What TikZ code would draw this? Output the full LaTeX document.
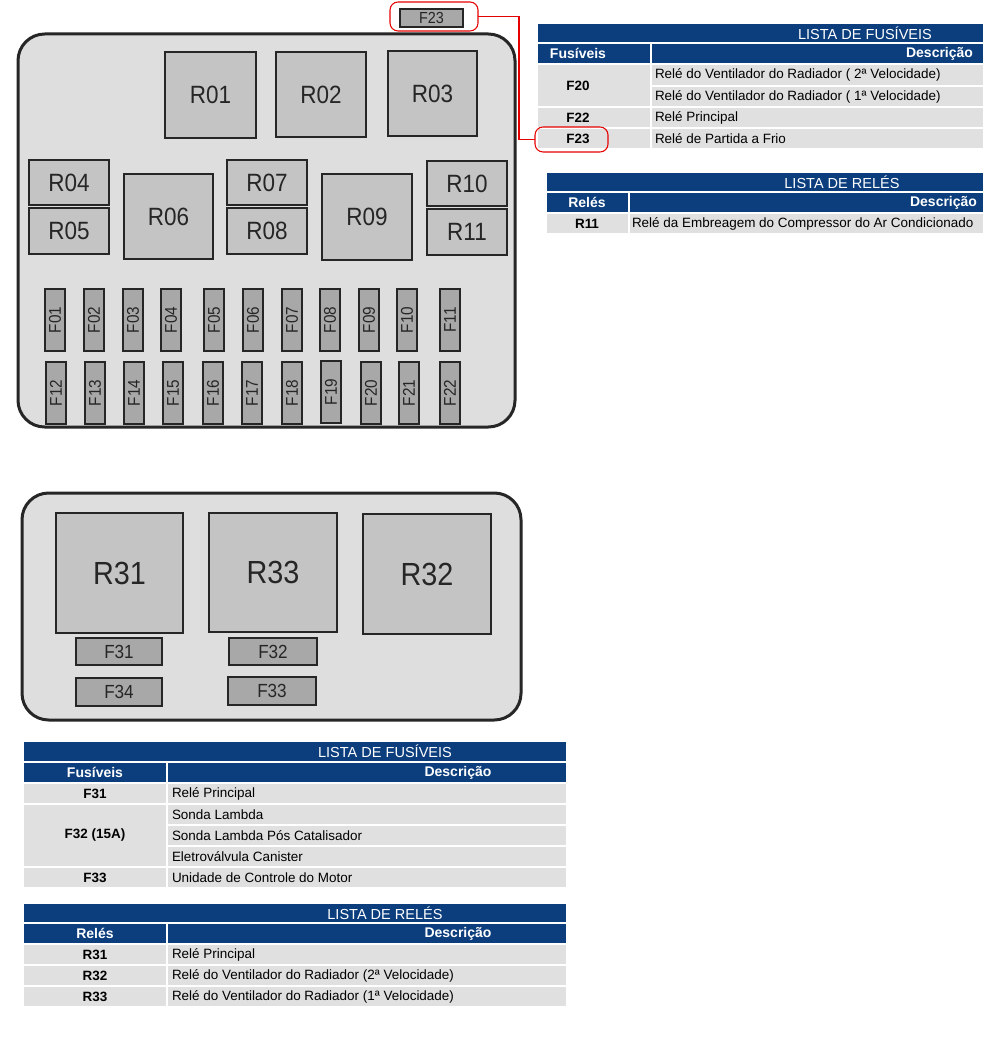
\documentclass[tikz,border=0pt]{standalone}
\usepackage{fontspec}
\setmainfont{Liberation Sans}
\newfontfamily\lblfont[FakeStretch=0.9]{Liberation Sans}
\definecolor{navy}{RGB}{12,62,125}
\definecolor{cellg}{RGB}{224,224,224}
\definecolor{boxg}{RGB}{222,222,222}
\definecolor{relg}{RGB}{196,196,196}
\definecolor{fuseg}{RGB}{168,168,168}
\definecolor{edge}{RGB}{38,38,38}
\definecolor{callred}{RGB}{230,0,0}
\newcommand\fsz[1]{\fontsize{#1}{#1}\selectfont}
% style, name, x1, y1, x2, y2, text
\newcommand\bx[7]{\node[#1,minimum width={(#5-#3)*0.75pt},minimum height={(#6-#4)*0.75pt}] (#2) at ({(#3+#5)/2},{(#4+#6)/2}) {#7};}
% vertical fuse: name, xleft, ytop, ybottom, label
\newcommand\fv[5]{\node[fuse,rotate=90,minimum width={(#4-#3)*0.75pt},minimum height=15pt] (#1) at ({#2+10},{(#3+#4)/2}) {#5};}
\tikzset{
 every node/.style={inner sep=0pt, outer sep=0pt},
 housing/.style={draw=edge, fill=boxg, line width=2.25pt, rounded corners=20pt},
 relay/.style={draw=edge, fill=relg, line width=2pt, text=edge, font=\lblfont\fsz{18.75pt}},
 bigrelay/.style={relay, font=\lblfont\fsz{24pt}},
 fuse/.style={draw=edge, fill=fuseg, line width=1.8pt, text=edge, font=\lblfont\fsz{12.75pt}},
 hfuse/.style={fuse, font=\lblfont\fsz{14.25pt}},
 topfuse/.style={fuse, line width=1.2pt, font=\lblfont\fsz{12pt}},
 navycell/.style={fill=navy, draw=white, line width=1.1pt},
 graycell/.style={fill=cellg, draw=white, line width=1.1pt},
 ttl/.style={text=white, font=\fsz{10.9pt}},
 hdr/.style={text=white, font=\bfseries\fsz{10.5pt}},
 key/.style={font=\bfseries\fsz{10.1pt}},
 desc/.style={anchor=west, font=\fsz{10.1pt}},
 callout/.style={draw=callred, line width=0.8pt, rounded corners=6pt},
 link/.style={draw=callred, line width=0.8pt},
}
\begin{document}
\begin{tikzpicture}[x=0.75pt,y=-0.75pt]
\useasboundingbox[fill=white] (0,0) rectangle (995,1055);

% ---------- upper housing ----------
\bx{housing}{top}{18}{34}{515}{427}{}
\bx{relay}{R01}{165}{52}{256}{138}{R01}
\bx{relay}{R02}{276}{52}{366}{137}{R02}
\bx{relay}{R03}{388}{51}{477}{136}{R03}
\bx{relay}{R04}{29}{160}{109}{205}{R04}
\bx{relay}{R05}{29}{208}{109}{254}{R05}
\bx{relay}{R06}{124}{174}{213}{259}{R06}
\bx{relay}{R07}{227}{160}{307}{205}{R07}
\bx{relay}{R08}{227}{208}{307}{254}{R08}
\bx{relay}{R09}{322}{174}{412}{260}{R09}
\bx{relay}{R10}{427}{161}{507}{206}{R10}
\bx{relay}{R11}{427}{209}{507}{255}{R11}

\fv{F01}{45}{289}{351}{F01}
\fv{F02}{84}{289}{351}{F02}
\fv{F03}{123}{289}{351}{F03}
\fv{F04}{161}{289}{351}{F04}
\fv{F05}{204}{289}{351}{F05}
\fv{F06}{243}{289}{351}{F06}
\fv{F07}{282}{289}{351}{F07}
\fv{F08}{320}{289}{351}{F08}
\fv{F09}{359}{289}{351}{F09}
\fv{F10}{397}{289}{351}{F10}
\fv{F11}{440}{289}{351}{F11}
\fv{F12}{46}{362}{424}{F12}
\fv{F13}{85}{362}{424}{F13}
\fv{F14}{124}{362}{424}{F14}
\fv{F15}{163}{362}{424}{F15}
\fv{F16}{203}{362}{424}{F16}
\fv{F17}{242}{362}{424}{F17}
\fv{F18}{282}{362}{424}{F18}
\fv{F19}{321}{361}{423}{F19}
\fv{F20}{361}{362}{424}{F20}
\fv{F21}{399}{362}{424}{F21}
\fv{F22}{440}{362}{424}{F22}

\bx{topfuse}{F23}{400}{9}{463}{27}{F23}
\bx{callout}{cA}{390}{2}{478}{31}{}

% ---------- lower housing ----------
\bx{housing}{bot}{22}{493}{521}{720}{}
\bx{bigrelay}{R31}{56}{513}{183}{633}{R31}
\bx{bigrelay}{R33}{209}{513}{337}{632}{R33}
\bx{bigrelay}{R32}{363}{514}{491}{634}{R32}
\bx{hfuse}{F31}{76}{638}{162}{665}{F31}
\bx{hfuse}{F34}{76}{678}{162}{706}{F34}
\bx{hfuse}{F32}{229}{638}{317}{665}{F32}
\bx{hfuse}{F33}{228}{677}{316}{705}{F33}

% ---------- table: fuses (upper) ----------
\bx{navycell}{t1title}{537}{23}{984}{43}{}
\node[ttl] (t1tt) at (865,33) {LISTA DE FUSÍVEIS};
\bx{navycell}{t1h1}{537}{43}{651}{64}{}
\bx{navycell}{t1h2}{651}{43}{984}{64}{}
\node[hdr] (t1ht1) at (578,53.5) {Fusíveis};
\node[hdr,anchor=east] (t1ht2) at (973,53.5) {Descrição};
\bx{graycell}{t1k1}{537}{64}{651}{107}{}
\bx{graycell}{t1d1}{651}{64}{984}{86}{}
\bx{graycell}{t1d2}{651}{86}{984}{107}{}
\bx{graycell}{t1k2}{537}{107}{651}{128}{}
\bx{graycell}{t1d3}{651}{107}{984}{128}{}
\bx{graycell}{t1k3}{537}{128}{651}{149}{}
\bx{graycell}{t1d4}{651}{128}{984}{149}{}
\node[key] (t1kt1) at (578,85.5) {F20};
\node[key] (t1kt2) at (578,117.5) {F22};
\node[key] (t1kt3) at (578,138.5) {F23};
\node[desc] (t1dt1) at (655,75) {Relé do Ventilador do Radiador ( 2ª Velocidade)};
\node[desc] (t1dt2) at (655,96.5) {Relé do Ventilador do Radiador ( 1ª Velocidade)};
\node[desc] (t1dt3) at (655,117.5) {Relé Principal};
\node[desc] (t1dt4) at (655,138.5) {Relé de Partida a Frio};
\bx{callout}{cB}{535}{127}{608}{152}{}
\coordinate (bend) at (519,0);
\draw[link] (cA.east) -- (cA.east -| bend) |- (cB.west);

% ---------- table: relays (upper) ----------
\bx{navycell}{t2title}{546}{172}{984}{192}{}
\node[ttl] (t2tt) at (842,182) {LISTA DE RELÉS};
\bx{navycell}{t2h1}{546}{192}{629}{213}{}
\bx{navycell}{t2h2}{629}{192}{984}{213}{}
\node[hdr] (t2ht1) at (587,202.5) {Relés};
\node[hdr,anchor=east] (t2ht2) at (977,202.5) {Descrição};
\bx{graycell}{t2k1}{546}{213}{629}{234}{}
\bx{graycell}{t2d1}{629}{213}{984}{234}{}
\node[key] (t2kt1) at (587,223.5) {R11};
\node[desc] (t2dt1) at (632,223.5) {Relé da Embreagem do Compressor do Ar Condicionado};

% ---------- table: fuses (lower) ----------
\bx{navycell}{t3title}{23}{741}{567}{762}{}
\node[ttl] (t3tt) at (385,751.5) {LISTA DE FUSÍVEIS};
\bx{navycell}{t3h1}{23}{762}{167}{783}{}
\bx{navycell}{t3h2}{167}{762}{567}{783}{}
\node[hdr] (t3ht1) at (95,772.5) {Fusíveis};
\node[hdr] (t3ht2) at (458,772.5) {Descrição};
\bx{graycell}{t3k1}{23}{783}{167}{804}{}
\bx{graycell}{t3d1}{167}{783}{567}{804}{}
\bx{graycell}{t3k2}{23}{804}{167}{867}{}
\bx{graycell}{t3d2}{167}{804}{567}{825}{}
\bx{graycell}{t3d3}{167}{825}{567}{846}{}
\bx{graycell}{t3d4}{167}{846}{567}{867}{}
\bx{graycell}{t3k3}{23}{867}{167}{888}{}
\bx{graycell}{t3d5}{167}{867}{567}{888}{}
\node[key] (t3kt1) at (95,793.5) {F31};
\node[key] (t3kt2) at (95,835.5) {F32 (15A)};
\node[key] (t3kt3) at (95,877.5) {F33};
\node[desc] (t3dt1) at (172,793.5) {Relé Principal};
\node[desc] (t3dt2) at (172,814.5) {Sonda Lambda};
\node[desc] (t3dt3) at (172,835.5) {Sonda Lambda Pós Catalisador};
\node[desc] (t3dt4) at (172,856.5) {Eletroválvula Canister};
\node[desc] (t3dt5) at (172,877.5) {Unidade de Controle do Motor};

% ---------- table: relays (lower) ----------
\bx{navycell}{t4title}{23}{903}{567}{923}{}
\node[ttl] (t4tt) at (385,913) {LISTA DE RELÉS};
\bx{navycell}{t4h1}{23}{923}{167}{944}{}
\bx{navycell}{t4h2}{167}{923}{567}{944}{}
\node[hdr] (t4ht1) at (95,933.5) {Relés};
\node[hdr] (t4ht2) at (458,933.5) {Descrição};
\bx{graycell}{t4k1}{23}{944}{167}{965}{}
\bx{graycell}{t4d1}{167}{944}{567}{965}{}
\bx{graycell}{t4k2}{23}{965}{167}{986}{}
\bx{graycell}{t4d2}{167}{965}{567}{986}{}
\bx{graycell}{t4k3}{23}{986}{167}{1007}{}
\bx{graycell}{t4d3}{167}{986}{567}{1007}{}
\node[key] (t4kt1) at (95,954.5) {R31};
\node[key] (t4kt2) at (95,975.5) {R32};
\node[key] (t4kt3) at (95,996.5) {R33};
\node[desc] (t4dt1) at (172,954.5) {Relé Principal};
\node[desc] (t4dt2) at (172,975.5) {Relé do Ventilador do Radiador (2ª Velocidade)};
\node[desc] (t4dt3) at (172,996.5) {Relé do Ventilador do Radiador (1ª Velocidade)};
\end{tikzpicture}
\end{document}
